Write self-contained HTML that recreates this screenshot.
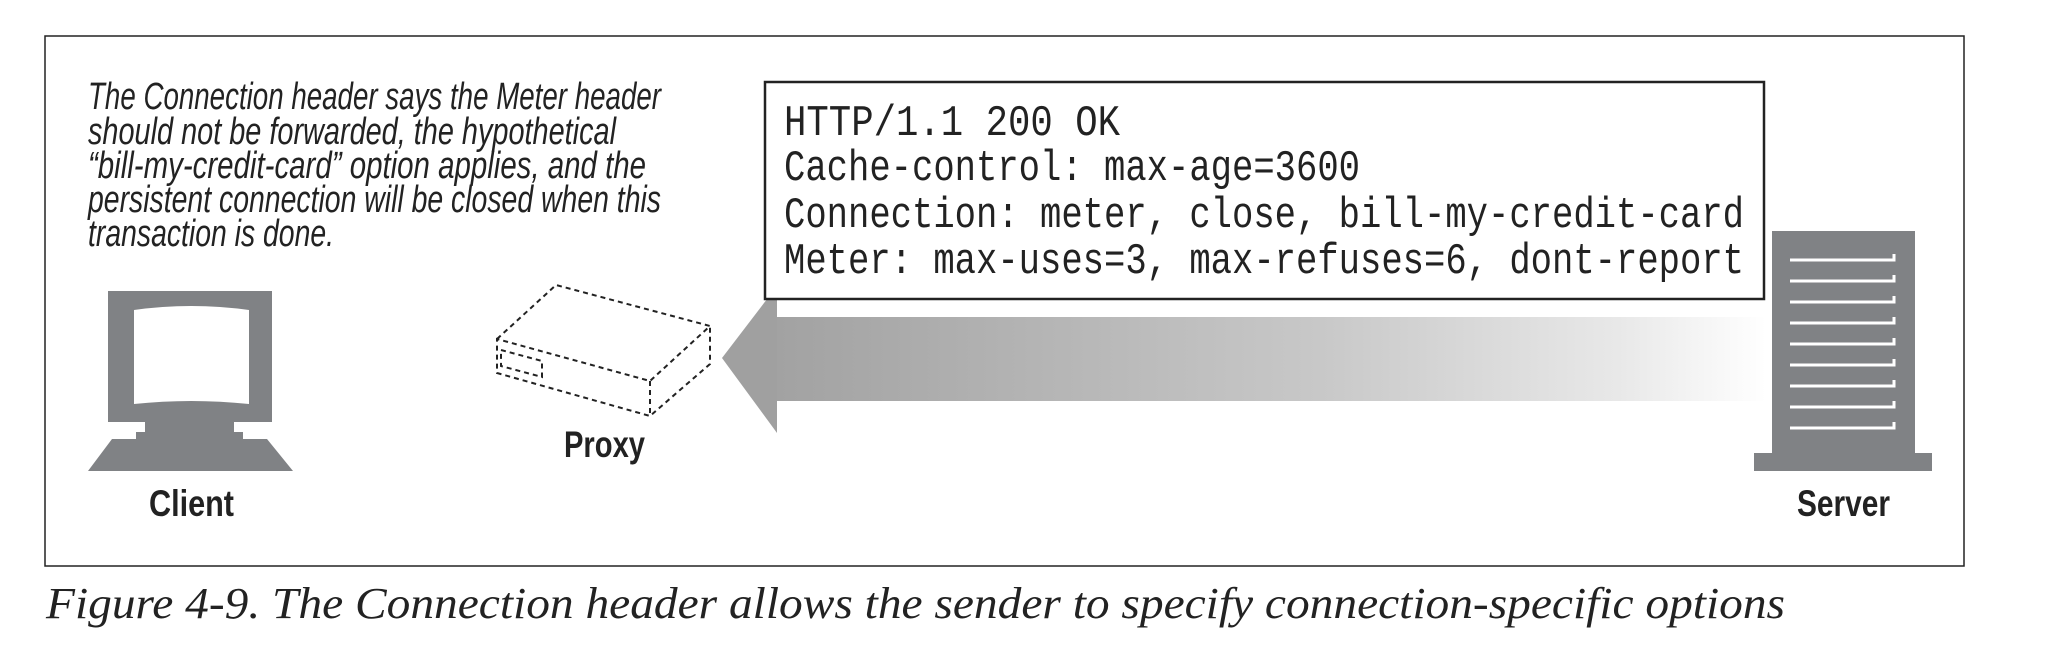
<!DOCTYPE html>
<html><head><meta charset="utf-8"><style>
html,body{margin:0;padding:0;background:#fff;}
svg{display:block;}
.n{font-family:"Liberation Sans Narrow","Liberation Sans",sans-serif;}
</style></head><body>
<svg width="2052" height="672" viewBox="0 0 2052 672" xmlns="http://www.w3.org/2000/svg">
<defs>
<linearGradient id="g" x1="0" x2="1" y1="0" y2="0">
<stop offset="0" stop-color="#a2a2a2"/><stop offset="0.55" stop-color="#c8c8c8"/><stop offset="0.85" stop-color="#e8e8e8"/><stop offset="1" stop-color="#ffffff"/>
</linearGradient>
</defs>
<rect x="45" y="36" width="1919" height="530" fill="none" stroke="#222" stroke-width="1.5"/>
<g class="n" font-style="italic" font-size="38" fill="#222">
<text x="88" y="109" textLength="573" lengthAdjust="spacingAndGlyphs">The Connection header says the Meter header</text>
<text x="88" y="144" textLength="528" lengthAdjust="spacingAndGlyphs">should not be forwarded, the hypothetical</text>
<text x="88" y="178" textLength="558" lengthAdjust="spacingAndGlyphs">“bill-my-credit-card” option applies, and the</text>
<text x="88" y="212" textLength="573" lengthAdjust="spacingAndGlyphs">persistent connection will be closed when this</text>
<text x="88" y="246" textLength="246" lengthAdjust="spacingAndGlyphs">transaction is done.</text>
</g>
<g>
<rect x="776" y="317" width="990" height="84" fill="url(#g)"/>
<polygon points="722,358 777,286 777,433" fill="#a0a0a0"/>
</g>
<rect x="765" y="82" width="999" height="217" fill="#fff" stroke="#222" stroke-width="2.5"/>
<g font-family="Liberation Mono,monospace" font-size="44" fill="#222">
<text x="784" y="135" textLength="336" lengthAdjust="spacingAndGlyphs">HTTP/1.1 200 OK</text>
<text x="784" y="180" textLength="576" lengthAdjust="spacingAndGlyphs">Cache-control: max-age=3600</text>
<text x="784" y="227" textLength="960" lengthAdjust="spacingAndGlyphs">Connection: meter, close, bill-my-credit-card</text>
<text x="784" y="273" textLength="960" lengthAdjust="spacingAndGlyphs">Meter: max-uses=3, max-refuses=6, dont-report</text>
</g>
<g fill="#808285">
<rect x="108" y="291" width="164" height="131"/>
<path d="M134,310 Q191,302 249,310 L249,404 Q191,398 134,404 Z" fill="#fff"/>
<rect x="145" y="421" width="89" height="13"/>
<rect x="136" y="432" width="107" height="8"/>
<polygon points="112,439 267,439 293,471 88,471"/>
</g>
<text class="n" x="149" y="516" font-size="37" font-weight="bold" fill="#222" textLength="85" lengthAdjust="spacingAndGlyphs">Client</text>
<g fill="none" stroke="#222" stroke-width="2" stroke-dasharray="5,4">
<polyline points="497,339 556,285 710,326 650,381 497,339 497,373 650,416 710,364 710,326"/>
<line x1="650" y1="381" x2="650" y2="416"/>
<polygon points="501,350 542,361 542,377 501,366"/>
</g>
<text class="n" x="564" y="457" font-size="37" font-weight="bold" fill="#222" textLength="81" lengthAdjust="spacingAndGlyphs">Proxy</text>
<g>
<rect x="1772" y="231" width="143" height="222" fill="#808285"/>
<rect x="1754" y="453" width="178" height="18" fill="#808285"/>
<g fill="none" stroke="#fff" stroke-width="3">
<polyline points="1790,260 1894,260 1894,254"/><polyline points="1790,281 1894,281 1894,275"/>
<polyline points="1790,302 1894,302 1894,296"/><polyline points="1790,323 1894,323 1894,317"/>
<polyline points="1790,344 1894,344 1894,338"/><polyline points="1790,365 1894,365 1894,359"/>
<polyline points="1790,386 1894,386 1894,380"/><polyline points="1790,407 1894,407 1894,401"/>
<polyline points="1790,428 1894,428 1894,422"/>
</g>
</g>
<text class="n" x="1797" y="516" font-size="37" font-weight="bold" fill="#222" textLength="93" lengthAdjust="spacingAndGlyphs">Server</text>
<text x="46" y="618" font-family="Liberation Serif,serif" font-style="italic" font-size="44" fill="#222" textLength="1739" lengthAdjust="spacingAndGlyphs">Figure 4-9. The Connection header allows the sender to specify connection-specific options</text>
</svg>
</body></html>
